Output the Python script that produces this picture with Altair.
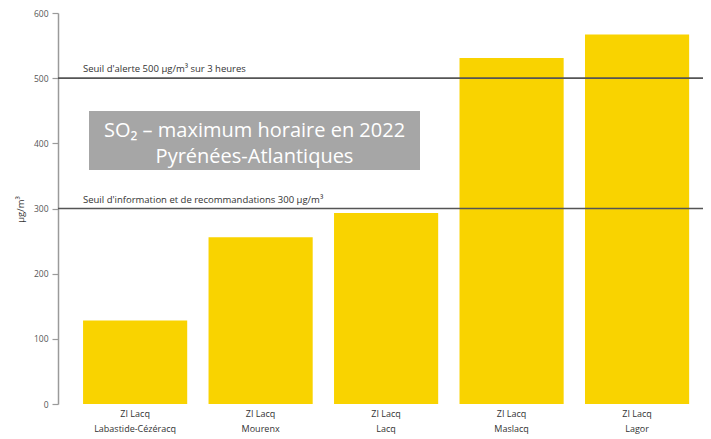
import altair as alt
import pandas as pd

stations = ["ZI Lacq\nLabastide-Cézéracq", "ZI Lacq\nMourenx", "ZI Lacq\nLacq", "ZI Lacq\nMaslacq", "ZI Lacq\nLagor"]
values = [128, 256, 293, 531, 567]
seuils = [500, 300]
seuil_labels = ["Seuil d'alerte 500 µg/m³ sur 3 heures", "Seuil d'information et de recommandations 300 µg/m³"]
title_lines = ["SO₂ – maximum horaire en 2022", "Pyrénées-Atlantiques"]

df = pd.DataFrame({"station": stations, "value": values})
df_s = pd.DataFrame({"seuil": seuils, "label": seuil_labels})
df_one = pd.DataFrame({"k": [0]})

FONT = "Open Sans"

x_scale = alt.Scale(paddingInner=0.17, paddingOuter=0.155, align=0.644)
y_scale = alt.Scale(domain=[0, 600], nice=False)

bars = alt.Chart(df).mark_bar(color="#F9D300").encode(
    x=alt.X("station:N", sort=stations, scale=x_scale, title=None,
            axis=alt.Axis(labelExpr="split(datum.label, '\\n')", labelAngle=0,
                          domain=False, ticks=False, labelPadding=5,
                          labelFontSize=9, labelColor="#333333", labelFont=FONT,
                          labelLineHeight=15)),
    y=alt.Y("value:Q", scale=y_scale, title="µg/m³",
            axis=alt.Axis(values=[0, 100, 200, 300, 400, 500, 600], grid=False,
                          domainColor="#9a9a9a", domainWidth=1.5, tickColor="#9a9a9a",
                          tickSize=6, tickWidth=1.2, labelPadding=4,
                          labelFontSize=8.5, labelColor="#555555", labelFont=FONT,
                          titleFontSize=9.5, titleFont=FONT, titleFontWeight="normal",
                          titleColor="#333333", titleX=-33, titleY=196)),
)

rules = alt.Chart(df_s).mark_rule(color="#555555", strokeWidth=1.6).encode(
    y=alt.Y("seuil:Q", scale=y_scale)
)

rule_text = alt.Chart(df_s).mark_text(align="left", baseline="bottom", dy=-4,
                                      fontSize=9.5, font=FONT, color="#333333").encode(
    x=alt.value(25),
    y=alt.Y("seuil:Q", scale=y_scale),
    text="label:N",
)

box = alt.Chart(df_one).mark_rect(color="#A6A6A6").encode(
    x=alt.value(31), x2=alt.value(362), y=alt.value(98), y2=alt.value(157)
)

box_text = alt.Chart(df_one).mark_text(align="center", baseline="middle", fontSize=20,
                                       font=FONT, color="white", lineHeight=26).encode(
    x=alt.value(196.5), y=alt.value(118), text=alt.value(title_lines)
)

chart = alt.layer(bars, rules, rule_text, box, box_text).properties(
    width=645, height=391,
    padding={"left": 50, "top": 5, "right": 0, "bottom": 33},
    autosize=alt.AutoSizeParams(type="none"),
).configure_view(stroke=None)

chart.save("out.html", embed_options={"renderer": "svg", "actions": False})
